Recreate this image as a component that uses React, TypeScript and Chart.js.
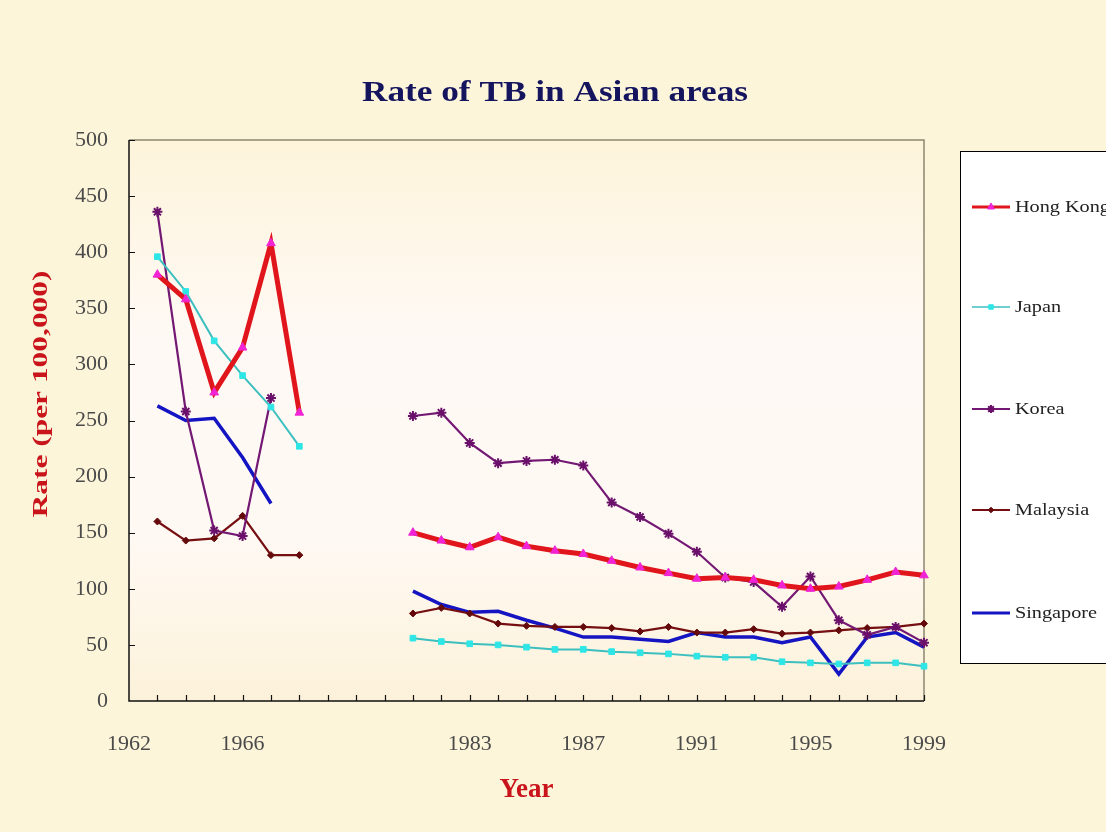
import React, { useEffect, useRef } from 'react';
import { Chart, registerables } from 'chart.js';
import { drawPoint } from 'chart.js/helpers';

Chart.register(...registerables);

const yearLabels = [
  '1962', '1963', '1964', '1965', '1966', '1967', '1968', '', '', '',
  '1981', '1982', '1983', '1984', '1985', '1986', '1987', '1988', '1989', '1990',
  '1991', '1992', '1993', '1994', '1995', '1996', '1997', '1998', '1999',
];

const hongKong = [null, 380, 358, 275, 315, 408, 257, null, null, null,
  150, 143, 137, 146, 138, 134, 131, 125, 119, 114, 109, 110, 108, 103, 100, 102, 108, 115, 112];
const japan = [null, 396, 365, 321, 290, 262, 227, null, null, null,
  56, 53, 51, 50, 48, 46, 46, 44, 43, 42, 40, 39, 39, 35, 34, 33, 34, 34, 31];
const korea = [null, 436, 258, 152, 147, 270, null, null, null, null,
  254, 257, 230, 212, 214, 215, 210, 177, 164, 149, 133, 110, 106, 84, 111, 72, 59, 66, 52];
const malaysia = [null, 160, 143, 145, 165, 130, 130, null, null, null,
  78, 83, 78, 69, 67, 66, 66, 65, 62, 66, 61, 61, 64, 60, 61, 63, 65, 66, 69];
const singapore = [null, 263, 250, 252, 217, 176, null, null, null, null,
  98, 86, 79, 80, 72, 65, 57, 57, 55, 53, 61, 57, 57, 52, 57, 24, 57, 61, 48];

const seriesNames = ['Hong Kong', 'Japan', 'Korea', 'Malaysia', 'Singapore'];
const yTicks = [0, 50, 100, 150, 200, 250, 300, 350, 400, 450, 500];

const chartTitle = 'Rate of TB in Asian areas';
const yTitle = 'Rate (per 100,000)';
const xTitle = 'Year';

const SERIF = '"Liberation Serif", "Times New Roman", serif';
const PAGE_BG = '#FDF5D9';

const legendRows = [207, 307, 409, 510, 613];
const legendLineWidths = [3, 1.5, 2, 2, 3];

function stretchedText(ctx: any, text: string, x: number, y: number, targetWidth: number, rotate: number) {
  ctx.save();
  ctx.translate(x, y);
  if (rotate) ctx.rotate(rotate);
  const w = ctx.measureText(text).width;
  ctx.scale(targetWidth / w, 1);
  ctx.textAlign = 'center';
  ctx.textBaseline = 'middle';
  ctx.fillText(text, 0, 0);
  ctx.restore();
}

const backgroundPlugin = {
  id: 'plotBackground',
  beforeDatasetsDraw(chart: any) {
    const { ctx, chartArea } = chart;
    const { left, top, right, bottom } = chartArea;
    ctx.save();
    const g = ctx.createLinearGradient(0, top, 0, bottom);
    g.addColorStop(0, '#FDF4DA');
    g.addColorStop(0.35, '#FFF9F5');
    g.addColorStop(0.7, '#FFF9F4');
    g.addColorStop(1, '#FCF2DA');
    ctx.fillStyle = g;
    ctx.fillRect(left, top, right - left, bottom - top);
    ctx.strokeStyle = '#8C8770';
    ctx.lineWidth = 1.5;
    ctx.beginPath();
    ctx.moveTo(left, top);
    ctx.lineTo(right, top);
    ctx.lineTo(right, bottom);
    ctx.stroke();
    ctx.strokeStyle = '#111';
    ctx.lineWidth = 1.5;
    ctx.beginPath();
    ctx.moveTo(left, top);
    ctx.lineTo(left, bottom);
    ctx.lineTo(right, bottom);
    ctx.stroke();
    const xs = chart.scales.x;
    const ys = chart.scales.y;
    ctx.lineWidth = 1.2;
    ctx.beginPath();
    for (let i = 1; i < yearLabels.length; i++) {
      const px = Math.round(xs.getPixelForValue(i)) + 0.5;
      ctx.moveTo(px, bottom);
      ctx.lineTo(px, bottom - 6);
    }
    yTicks.forEach((v) => {
      if (v === 0) return;
      const py = Math.round(ys.getPixelForValue(v)) + 0.5;
      ctx.moveTo(left, py);
      ctx.lineTo(left + 6, py);
    });
    ctx.stroke();
    ctx.restore();
  },
};

const textPlugin = {
  id: 'titles',
  afterDraw(chart: any) {
    const { ctx } = chart;
    ctx.save();
    ctx.fillStyle = '#15155F';
    ctx.font = `bold 30px ${SERIF}`;
    stretchedText(ctx, chartTitle, 555, 93, 386, 0);
    ctx.fillStyle = '#C8141A';
    ctx.font = `bold 22px ${SERIF}`;
    stretchedText(ctx, yTitle, 41, 394, 247, -Math.PI / 2);
    ctx.restore();
  },
};

const legendPlugin = {
  id: 'boxLegend',
  afterDraw(chart: any) {
    const { ctx } = chart;
    ctx.save();
    ctx.fillStyle = '#FFFFFF';
    ctx.fillRect(960.5, 151.5, 200, 512);
    ctx.strokeStyle = '#000';
    ctx.lineWidth = 1;
    ctx.strokeRect(960.5, 151.5, 200, 512);
    chart.data.datasets.forEach((ds: any, i: number) => {
      const y = legendRows[i];
      ctx.strokeStyle = ds.borderColor;
      ctx.lineWidth = legendLineWidths[i];
      ctx.beginPath();
      ctx.moveTo(972, y);
      ctx.lineTo(1010, y);
      ctx.stroke();
      if (ds.pointRadius > 0) {
        ctx.fillStyle = ds.pointBackgroundColor;
        ctx.strokeStyle = ds.pointBorderColor;
        ctx.lineWidth = ds.pointBorderWidth;
        drawPoint(ctx, { pointStyle: ds.pointStyle, radius: ds.pointRadius * 0.8, rotation: 0, borderWidth: ds.pointBorderWidth } as any, 991, y);
      }
      ctx.fillStyle = '#222';
      ctx.font = `17px ${SERIF}`;
      ctx.textBaseline = 'middle';
      ctx.textAlign = 'left';
      ctx.save();
      ctx.translate(1015, y + 1);
      ctx.scale(1.19, 1);
      ctx.fillText(ds.label, 0, 0);
      ctx.restore();
    });
    ctx.restore();
  },
};

export default function App() {
  const canvasRef = useRef<HTMLCanvasElement | null>(null);

  useEffect(() => {
    const canvas = canvasRef.current;
    if (!canvas) return;
    const chart = new Chart(canvas, {
      type: 'line',
      data: {
        labels: yearLabels,
        datasets: [
          {
            label: seriesNames[0],
            data: hongKong,
            borderColor: '#E0161C',
            borderWidth: 5,
            pointStyle: 'triangle',
            pointRadius: 5,
            pointBackgroundColor: '#F024D4',
            pointBorderColor: '#F024D4',
            pointBorderWidth: 1,
          },
          {
            label: seriesNames[1],
            data: japan,
            borderColor: '#3CBFBF',
            borderWidth: 2,
            pointStyle: 'rect',
            pointRadius: 4,
            pointBackgroundColor: '#2EE6E6',
            pointBorderColor: '#2EE6E6',
            pointBorderWidth: 1,
          },
          {
            label: seriesNames[2],
            data: korea,
            borderColor: '#731873',
            borderWidth: 2.2,
            pointStyle: 'star',
            pointRadius: 5,
            pointBackgroundColor: '#6A106A',
            pointBorderColor: '#6A106A',
            pointBorderWidth: 2,
          },
          {
            label: seriesNames[3],
            data: malaysia,
            borderColor: '#760F12',
            borderWidth: 2.2,
            pointStyle: 'rectRot',
            pointRadius: 3.5,
            pointBackgroundColor: '#650A0C',
            pointBorderColor: '#650A0C',
            pointBorderWidth: 1,
          },
          {
            label: seriesNames[4],
            data: singapore,
            borderColor: '#1414C2',
            borderWidth: 3.5,
            pointStyle: 'circle',
            pointRadius: 0,
            pointBackgroundColor: '#1414C2',
            pointBorderColor: '#1414C2',
            pointBorderWidth: 1,
          },
        ],
      },
      options: {
        responsive: false,
        animation: false,
        devicePixelRatio: 1,
        spanGaps: false,
        layout: { padding: { left: 0, right: 182, top: 140, bottom: 0 } },
        elements: { line: { tension: 0 } },
        plugins: {
          legend: { display: false },
          tooltip: { enabled: false },
          title: { display: false },
        },
        scales: {
          x: {
            type: 'category',
            offset: false,
            grid: { display: false, drawTicks: false },
            border: { display: false },
            ticks: {
              autoSkip: false,
              maxRotation: 0,
              padding: 30,
              color: '#4A4A4A',
              font: { family: SERIF, size: 22 },
              callback: (_v: any, i: number) => (i % 4 === 0 ? yearLabels[i] : ''),
            },
            title: {
              display: true,
              text: xTitle,
              color: '#C8141A',
              font: { family: SERIF, size: 27, weight: 'bold' },
              padding: { top: 0, bottom: 26 },
            },
            afterFit: (s: any) => { s.height = 131; },
          },
          y: {
            min: 0,
            max: 500,
            grid: { display: false, drawTicks: false },
            border: { display: false },
            ticks: {
              stepSize: 50,
              padding: 21,
              color: '#4A4A4A',
              font: { family: SERIF, size: 22 },
            },
            title: { display: false },
            afterFit: (s: any) => { s.width = 129; },
          },
        },
      },
      plugins: [backgroundPlugin, textPlugin, legendPlugin],
    });
    return () => chart.destroy();
  }, []);

  return (
    <div style={{ position: 'fixed', left: 0, top: 0, width: 1106, height: 832, overflow: 'hidden', background: PAGE_BG }}>
      <canvas ref={canvasRef} width={1106} height={832} style={{ display: 'block', width: 1106, height: 832 }} />
    </div>
  );
}
